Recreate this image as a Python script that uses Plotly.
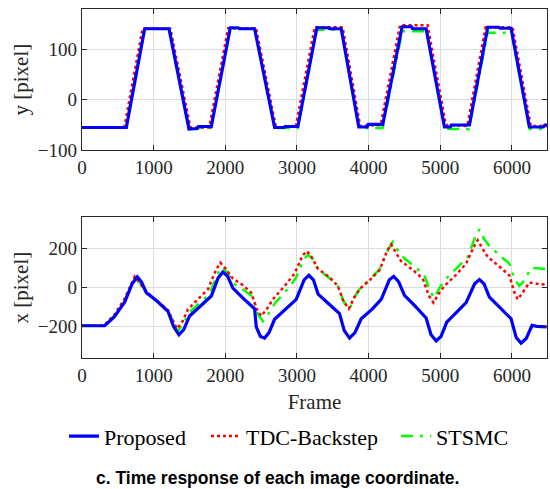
import plotly.graph_objects as go

# ---------------- data ----------------
# top panel: y [pixel]
yP_f = [0, 619, 875, 1214, 1493, 1610, 1625, 1805, 2070, 2180, 2195, 2409, 2688, 2820, 2835, 3013,
        3278, 3440, 3455, 3618, 3863, 3980, 3995, 4198, 4468, 4600, 4615, 4803, 5059, 5140, 5155, 5407,
        5663, 5820, 5835, 5989, 6244, 6440, 6460, 6500]
yP_v = [-55, -55, 140, 140, -58, -57, -53, -53, 142, 142, 140, 140, -55, -55, -53, -53,
        142, 142, 140, 140, -54, -54, -49, -49, 144, 144, 140, 140, -54, -54, -50, -50,
        143, 143, 141, 141, -54, -54, -50, -50]

yT_f = [0, 590, 845, 1234, 1513, 1775, 2040, 2429, 2708, 2983, 3248, 3638, 3883, 4168, 4438, 4823,
        5079, 5377, 5633, 6009, 6264, 6500]
yT_v = [-55, -55, 140, 140, -55, -55, 141, 141, -55, -53, 143, 143, -52, -50, 147, 147,
        -50, -52, 143, 143, -52, -52]

yS_f = [0, 610, 870, 1220, 1500, 1800, 2065, 2415, 2695, 3010, 3275, 3625, 3870, 4195, 4470, 4810,
        5066, 5400, 5660, 5995, 6250, 6500]
yS_v = [-55, -55, 140, 140, -56, -56, 140, 140, -56, -56, 138, 138, -56, -56, 135, 135,
        -58, -58, 132, 132, -58, -58]

# bottom panel: x [pixel]
xP_f = [0, 317, 450, 597, 700, 772, 830, 898, 1050, 1200, 1280, 1353, 1420, 1502, 1650, 1805, 1900, 1967,
        2030, 2106, 2250, 2409, 2432, 2490, 2548, 2610, 2688, 2850, 2990, 3100, 3166, 3230, 3295, 3450,
        3594, 3660, 3734, 3810, 3897, 4050, 4176, 4290, 4351, 4420, 4501, 4650, 4803, 4870, 4943, 5010,
        5091, 5230, 5361, 5480, 5547, 5610, 5686, 5840, 5989, 6060, 6128, 6200, 6282, 6350, 6485]
xP_v = [-195, -195, -150, -73, 20, 55, 30, -26, -70, -121, -200, -241, -215, -145, -95, -43, 50, 80,
        60, -2, -55, -108, -201, -250, -258, -230, -162, -110, -60, 40, 63, 40, -33, -85,
        -133, -220, -258, -230, -159, -110, -60, 40, 58, 30, -39, -95, -155, -240, -273, -250,
        -176, -125, -77, 20, 41, 20, -48, -105, -159, -255, -284, -260, -193, -198, -201]

xT_f = [0, 300, 450, 590, 735, 800, 898, 1050, 1200, 1325, 1400, 1479, 1620, 1758, 1870, 1930, 2000,
        2106, 2250, 2362, 2440, 2502, 2570, 2664, 2820, 2967, 3080, 3138, 3200, 3292, 3450, 3570, 3650,
        3724, 3800, 3873, 4020, 4152, 4260, 4315, 4380, 4455, 4620, 4756, 4840, 4905, 4980, 5059, 5220,
        5361, 5470, 5523, 5590, 5663, 5820, 5965, 6030, 6081, 6160, 6244, 6350, 6485]
xT_v = [-195, -195, -140, -60, 56, 25, -20, -70, -115, -210, -175, -111, -60, -8, 90, 128, 100,
        46, 12, -26, -110, -145, -115, -60, 5, 72, 165, 187, 160, 97, 55, 9, -70,
        -108, -50, -8, 40, 89, 190, 221, 180, 135, 90, 46, -40, -77, -30, 9, 65,
        123, 210, 243, 200, 157, 110, 63, -20, -60, -20, 26, 20, 15]

xS_f = [0, 300, 450, 595, 745, 800, 898, 1050, 1200, 1339, 1420, 1502, 1640, 1782, 1890, 1958, 2030,
        2115, 2250, 2385, 2460, 2525, 2600, 2688, 2840, 2980, 3090, 3152, 3210, 3292, 3450, 3570, 3650,
        3734, 3800, 3873, 4020, 4152, 4280, 4338, 4410, 4501, 4650, 4780, 4860, 4919, 4990, 5082, 5230,
        5384, 5490, 5547, 5610, 5686, 5830, 5965, 6040, 6105, 6180, 6268, 6400, 6485]
xS_v = [-195, -195, -145, -65, 55, 25, -22, -70, -118, -224, -180, -125, -80, -31, 70, 106, 75,
        21, -10, -48, -140, -172, -135, -82, -20, 46, 140, 169, 150, 94, 50, 9, -70,
        -111, -50, -8, 45, 94, 200, 234, 190, 149, 105, 63, -20, -53, 0, 46, 100,
        157, 260, 299, 250, 214, 165, 123, 40, 9, 40, 101, 98, 94]

names = ["Proposed", "TDC-Backstep", "STSMC"]
x_ticks = [0, 1000, 2000, 3000, 4000, 5000, 6000]

# ---------------- figure ----------------
FONT = "Liberation Serif"
INK = "#262626"
BLUE, RED, GREEN = "#0000FF", "#FF0000", "#00FF00"
GREEN_DASH = "12px,7px,3px,7px"
LEG_W = {names[0]: 97, names[1]: 145, names[2]: 75}

fig = go.Figure()

def add(fx, fy, name, color, dash, width, xa, ya, show, rank):
    fig.add_trace(go.Scatter(x=fx, y=fy, mode="lines", name=name,
                             line=dict(color=color, dash=dash, width=width),
                             xaxis=xa, yaxis=ya, showlegend=show, legendrank=rank,
                             legendwidth=LEG_W[name]))

# draw order: STSMC, TDC, Proposed on top
add(yS_f, yS_v, names[2], GREEN, GREEN_DASH, 2.5, "x", "y", True, 3)
add(yT_f, yT_v, names[1], RED, "dot", 2.5, "x", "y", True, 2)
add(yP_f, yP_v, names[0], BLUE, "solid", 3.2, "x", "y", True, 1)
add(xS_f, xS_v, names[2], GREEN, GREEN_DASH, 2.5, "x2", "y2", False, 3)
add(xT_f, xT_v, names[1], RED, "dot", 2.5, "x2", "y2", False, 2)
add(xP_f, xP_v, names[0], BLUE, "solid", 3.2, "x2", "y2", False, 1)

axis_common = dict(showline=True, linecolor=INK, linewidth=1.3, mirror="ticks",
                   ticks="inside", ticklen=5, tickcolor=INK, tickwidth=1,
                   showgrid=True, gridcolor="#dcdcdc", gridwidth=1, zeroline=False,
                   automargin=False,
                   tickfont=dict(family=FONT, size=19, color=INK))

H_T, H_B = 9, 131
ph = 489 - H_T - H_B
top_dom = [(357.7 - 150) / ph, 1]
bot_dom = [0, (357.7 - 217) / ph]

fig.update_layout(
    width=550, height=489,
    margin=dict(l=82, r=3, t=H_T, b=H_B, autoexpand=False),
    paper_bgcolor="white", plot_bgcolor="white",
    xaxis=dict(domain=[0, 1], range=[0, 6490], tickvals=x_ticks, anchor="y", **axis_common),
    yaxis=dict(domain=top_dom, range=[-100, 179], tickvals=[-100, 0, 100], anchor="x",
               title=dict(text="y [pixel]", font=dict(family=FONT, size=21, color=INK), standoff=3),
               **axis_common),
    xaxis2=dict(domain=[0, 1], range=[0, 6490], tickvals=x_ticks, anchor="y2",
                title=dict(text="Frame", font=dict(family=FONT, size=21, color=INK), standoff=9),
                **axis_common),
    yaxis2=dict(domain=bot_dom, range=[-360, 360], tickvals=[-200, 0, 200], anchor="x2",
                title=dict(text="x [pixel]", font=dict(family=FONT, size=21, color=INK), standoff=3),
                **axis_common),
    legend=dict(orientation="h", x=(290 - 82) / 465, xanchor="center", y=(357.7 - 436) / ph,
                yanchor="middle", font=dict(family=FONT, size=22, color="black"),
                bgcolor="rgba(0,0,0,0)"),
    annotations=[dict(text="<b>c. Time response of each image coordinate.</b>",
                      xref="paper", yref="paper", x=(277 - 82) / 465, y=(357.7 - 478) / ph,
                      xanchor="center", yanchor="middle", showarrow=False,
                      font=dict(family="Liberation Sans", size=17.5, color="black"))],
)

fig.write_html("out.html", config={"displayModeBar": False},
               post_script="document.body.style.margin='0';document.body.style.padding='0';")
